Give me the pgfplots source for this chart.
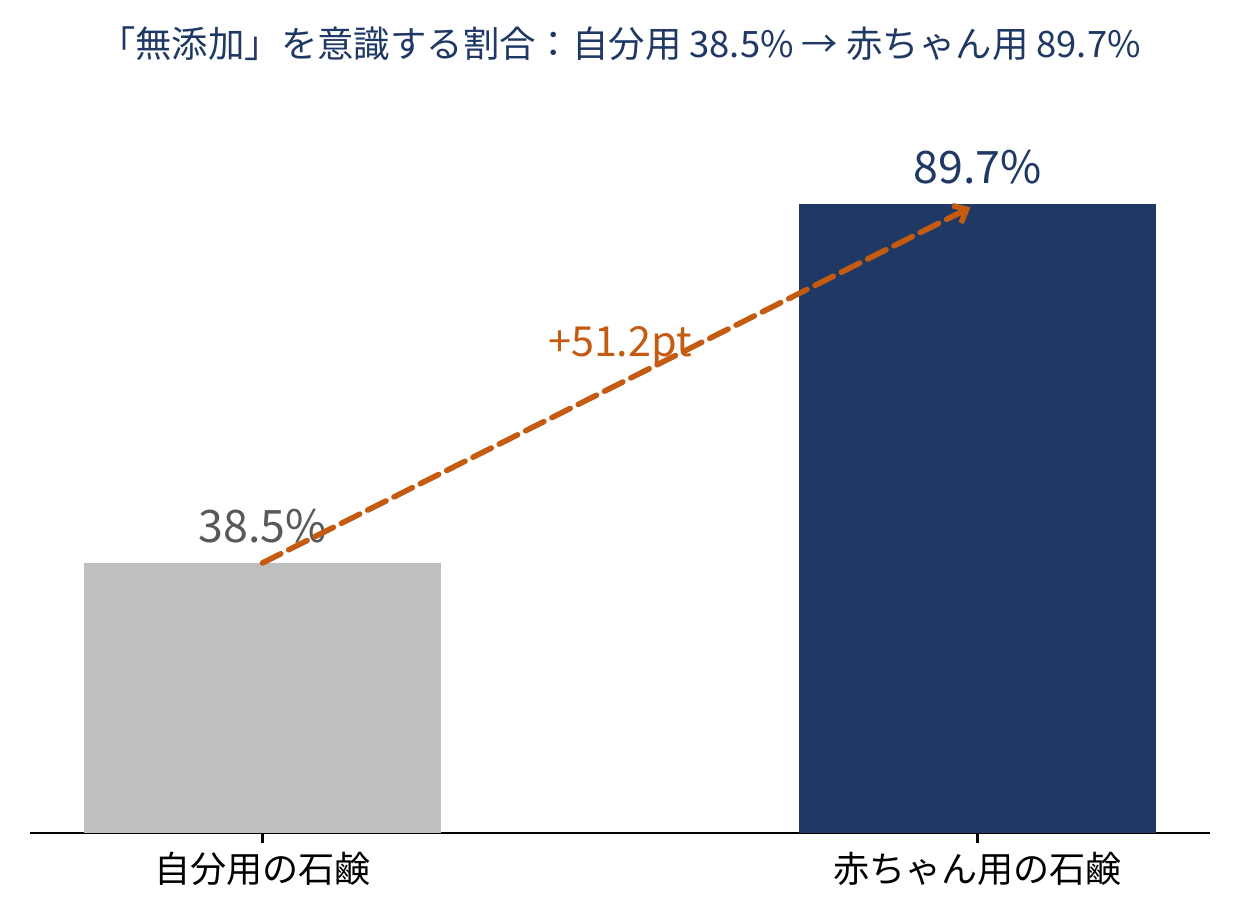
\documentclass[border=0pt]{standalone}
\usepackage{fontspec}
\setmainfont{Noto Sans CJK JP}
\usepackage{pgfplots}
\pgfplotsset{compat=1.18}
\usetikzlibrary{arrows.meta}
\definecolor{navy}{HTML}{1F3864}
\definecolor{barg}{HTML}{BFBFBF}
\definecolor{dgray}{HTML}{595959}
\definecolor{orng}{HTML}{C55A11}
\begin{document}
\begin{tikzpicture}
\useasboundingbox (0,0) rectangle (446.4pt,330.84pt);
\node[anchor=base, font=\fontsize{13.1pt}{15pt}\selectfont, text=navy, inner sep=0pt] at (223.2pt,310.3pt) {「無添加」を意識する割合：自分用 38.5\% → 赤ちゃん用 89.7\%};
\begin{axis}[
  at={(10.8pt,30.96pt)}, anchor=south west,
  scale only axis, width=424.8pt, height=265.1pt,
  xmin=-0.325, xmax=1.325, ymin=0, ymax=105,
  axis x line=bottom, axis y line=none,
  x axis line style={-, black, line width=0.8pt},
  xtick={0,1}, xticklabels={自分用の石鹸,赤ちゃん用の石鹸},
  tick align=outside, major tick length=3.5pt,
  xtick style={black, line width=0.8pt},
  xticklabel style={font=\fontsize{13pt}{15pt}\selectfont, text=black},
  clip=false,
]
\addplot[ybar, bar width=0.5, bar shift=0pt, fill=barg, draw=none] coordinates {(0,38.5)};
\addplot[ybar, bar width=0.5, bar shift=0pt, fill=navy, draw=none] coordinates {(1,89.7)};
\node[anchor=base, text=dgray, font=\fontsize{16.1pt}{18pt}\selectfont, inner sep=0pt, yshift=7.2pt] at (axis cs:0,38.5) {38.5\%};
\node[anchor=base, text=navy, font=\fontsize{16.1pt}{18pt}\selectfont, inner sep=0pt, yshift=7.2pt] at (axis cs:1,89.7) {89.7\%};
\node[anchor=center, text=orng, font=\fontsize{14.9pt}{17pt}\selectfont, inner sep=0pt] at (axis cs:0.5,69.4) {+51.2pt};
\draw[orng, line width=2pt, dash pattern=on 7.4pt off 3.2pt, line cap=round, -{Straight Barb[length=4pt,width=7pt,line width=2pt]}] (axis cs:0,38.5) -- (axis cs:0.99,89.2);
\end{axis}
\end{tikzpicture}
\end{document}
